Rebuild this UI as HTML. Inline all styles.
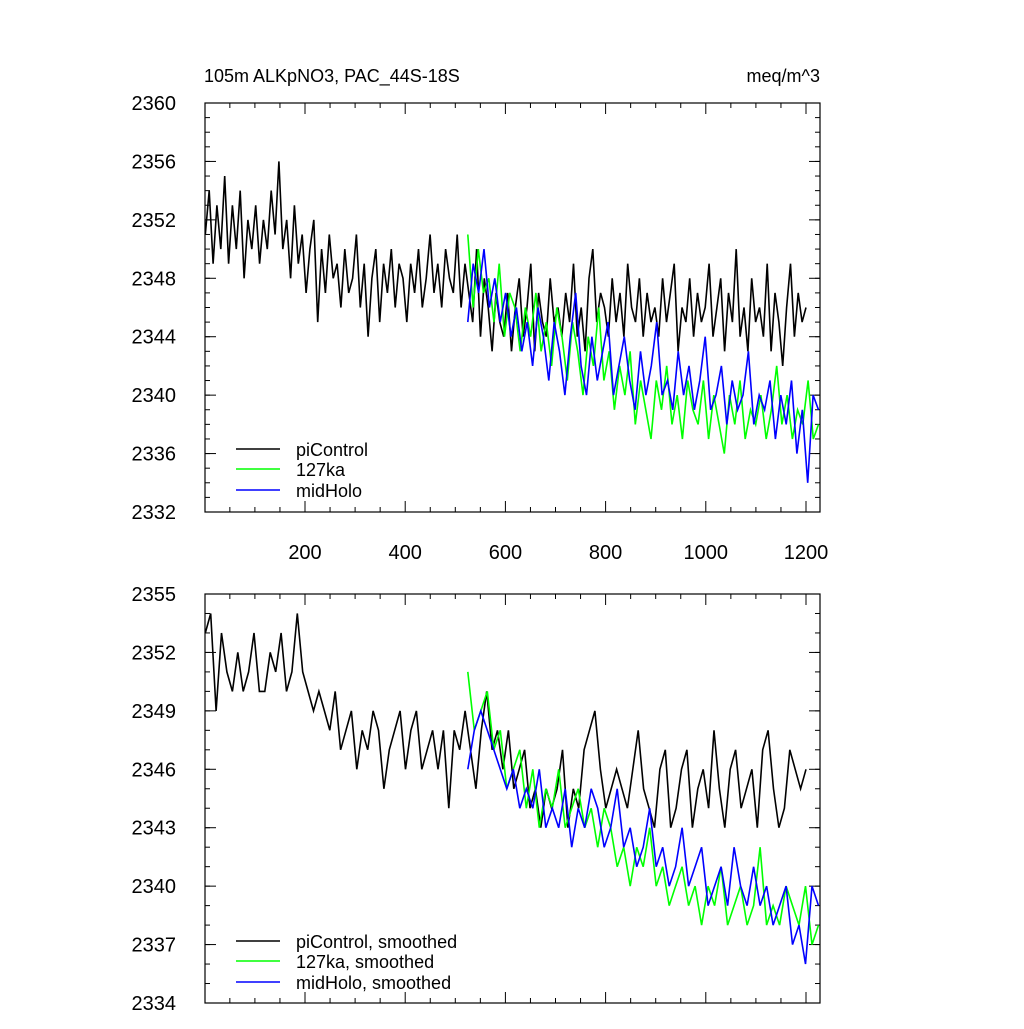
<!DOCTYPE html>
<html><head><meta charset="utf-8"><style>
body{margin:0;background:#fff;}
svg text{font-family:"Liberation Sans",sans-serif;fill:#000;}
</style></head><body>
<svg id="c" width="1024" height="1024" viewBox="0 0 1024 1024" xmlns="http://www.w3.org/2000/svg"></svg>
<script>
const piTop=[2351,2354,2349,2353,2350,2355,2349,2353,2350,2354,2348,2352,2350,
2353,2349,2352,2350,2354,2351,2356,2350,2352,2348,2353,2349,2351,
2347,2350,2352,2345,2350,2347,2351,2348,2349,2346,2350,2347,2348,
2351,2346,2349,2344,2348,2350,2345,2349,2347,2350,2346,2349,2348,
2345,2349,2347,2350,2346,2348,2351,2347,2349,2346,2350,2348,2347,
2351,2346,2349,2347,2345,2350,2344,2348,2346,2343,2347,2345,2344,
2347,2343,2346,2348,2344,2346,2349,2343,2347,2345,2344,2348,2345,
2346,2344,2347,2345,2349,2344,2346,2343,2348,2350,2345,2347,2346,
2344,2348,2345,2347,2344,2349,2346,2345,2348,2344,2347,2345,2346,
2344,2348,2345,2347,2349,2343,2346,2345,2348,2344,2347,2345,2346,
2349,2344,2346,2348,2343,2347,2345,2350,2344,2346,2343,2348,2345,
2346,2344,2349,2343,2347,2345,2342,2346,2349,2344,2347,2345,2346];
const lgTop=[2351,2346,2350,2347,2348,2345,2349,2344,2347,2346,2343,2346,2344,2347,2343,2345,2342,2346,2344,2341,2345,2343,2340,2344,2342,2346,2341,2343,2339,2342,2340,2343,2338,2341,2339,2337,2341,2339,2342,2338,2340,2337,2341,2339,2338,2341,2337,2340,2338,2336,2340,2338,2341,2337,2339,2338,2340,2337,2339,2342,2338,2340,2337,2339,2338,2341,2337,2338];
const mhTop=[2345,2349,2347,2350,2346,2348,2345,2347,2344,2346,2343,2345,2342,2346,2344,2341,2345,2343,2340,2344,2347,2342,2340,2344,2341,2343,2345,2340,2342,2344,2341,2339,2343,2340,2342,2345,2340,2341,2339,2343,2340,2342,2339,2341,2344,2339,2340,2342,2338,2341,2339,2340,2343,2338,2340,2339,2341,2337,2340,2338,2341,2336,2339,2334,2340,2339];
const piSm=[2353,2354,2349,2353,2351,2350,2352,2350,2351,2353,2350,2350,2352,2351,2353,2350,2351,2354,2351,2350,2349,2350,2349,2348,2350,2347,2348,2349,2346,2348,2347,2349,2348,2345,2347,2348,2349,2346,2348,2349,2346,2347,2348,2346,2348,2344,2348,2347,2349,2347,2345,2348,2350,2347,2348,2346,2348,2345,2346,2347,2344,2345,2343,2345,2344,2345,2347,2343,2345,2344,2347,2348,2349,2346,2344,2345,2346,2345,2344,2346,2348,2345,2344,2343,2346,2347,2343,2344,2346,2347,2343,2345,2346,2344,2348,2345,2343,2346,2347,2344,2345,2346,2343,2347,2348,2345,2343,2344,2347,2346,2345,2346];
const lgSm=[2351,2348,2349,2350,2347,2348,2345,2346,2347,2344,2346,2343,2345,2344,2346,2343,2344,2345,2343,2344,2342,2344,2343,2341,2342,2340,2342,2341,2343,2340,2341,2339,2340,2341,2339,2340,2338,2340,2339,2341,2338,2339,2340,2338,2339,2342,2338,2339,2338,2340,2339,2338,2340,2337,2338];
const mhSm=[2346,2348,2349,2348,2347,2346,2345,2346,2344,2345,2344,2346,2343,2344,2343,2345,2342,2344,2343,2345,2344,2342,2343,2345,2342,2343,2341,2342,2344,2341,2342,2340,2341,2343,2340,2341,2342,2339,2340,2341,2339,2342,2340,2339,2341,2339,2340,2338,2339,2340,2337,2338,2336,2340,2339];
const xTicks=[200,400,600,800,1000,1200];
const yTicksTop=[2332,2336,2340,2344,2348,2352,2356,2360];
const yTicksBot=[2334,2337,2340,2343,2346,2349,2352,2355];

const svg=document.getElementById('c');const NS='http://www.w3.org/2000/svg';
function mk(t,a,p){const e=document.createElementNS(NS,t);for(const k in a)e.setAttribute(k,a[k]);(p||svg).appendChild(e);return e;}
const X0=205,X1=820,xs=x=>204.8+x*0.501;
function panel(top,bot,ymin,ymax,yt,minorStep,series,legend,showX,name){
  const g=mk('g',{});
  
  
  const ys=v=>bot-(v-ymin)/(ymax-ymin)*(bot-top);
  mk('rect',{x:X0,y:top,width:X1-X0,height:bot-top,fill:'none',stroke:'#000','stroke-width':1.2},g);
  for(let v=ymin;v<=ymax+1e-9;v+=minorStep){const y=ys(v);mk('line',{x1:X0,x2:X0+5,y1:y,y2:y,stroke:'#000'},g);mk('line',{x1:X1,x2:X1-5,y1:y,y2:y,stroke:'#000'},g);}
  yt.forEach(v=>{const y=ys(v);mk('line',{x1:X0,x2:X0+11,y1:y,y2:y,stroke:'#000'},g);mk('line',{x1:X1,x2:X1-11,y1:y,y2:y,stroke:'#000'},g);
    const t=mk('text',{x:176,y:y+7,'text-anchor':'end','font-size':20},g);t.textContent=v;
    
    });
  for(let x=50;x<=1225;x+=50){const px=xs(x);const L=(x%200==0)?11:5;mk('line',{x1:px,x2:px,y1:bot,y2:bot-L,stroke:'#000'},g);mk('line',{x1:px,x2:px,y1:top,y2:top+L,stroke:'#000'},g);}
  if(showX)xTicks.forEach(x=>{const t=mk('text',{x:xs(x),y:bot+47,'text-anchor':'middle','font-size':20},g);t.textContent=x;
    
    });
  series.forEach(s=>{const n=s.d.length;const pts=s.d.map((v,i)=>xs(s.a+i*(s.b-s.a)/(n-1)).toFixed(1)+','+ys(v).toFixed(1)).join(' ');
    const p=mk('polyline',{points:pts,fill:'none',stroke:s.c,'stroke-width':1.6},g);
    
    });
  legend.forEach((l,i)=>{const y=l.y;mk('line',{x1:236,x2:280,y1:y,y2:y,stroke:l.c,'stroke-width':1.6},g);
    const t=mk('text',{x:296,y:y+7,'font-size':18},g);t.textContent=l.t;
    
    });
}
panel(103,512,2332,2360,yTicksTop,1,[
 {d:piTop,a:1,b:1200,c:'#000',n:'picontrol-line'},
 {d:lgTop,a:525,b:1225,c:'#00ff00',n:'127ka-line'},
 {d:mhTop,a:525,b:1225,c:'#0000ff',n:'midholo-line'}],
 [{y:449,c:'#000',t:'piControl'},{y:469,c:'#00ff00',t:'127ka'},{y:490,c:'#0000ff',t:'midHolo'}],true,'top-panel');
panel(594,1003,2334,2355,yTicksBot,1,[
 {d:piSm,a:1,b:1200,c:'#000',n:'picontrol-smoothed-line'},
 {d:lgSm,a:525,b:1225,c:'#00ff00',n:'127ka-smoothed-line'},
 {d:mhSm,a:525,b:1225,c:'#0000ff',n:'midholo-smoothed-line'}],
 [{y:941,c:'#000',t:'piControl, smoothed'},{y:961,c:'#00ff00',t:'127ka, smoothed'},{y:982,c:'#0000ff',t:'midHolo, smoothed'}],false,'bottom-panel');
const t1=mk('text',{x:204,y:82,'font-size':18});t1.textContent='105m ALKpNO3, PAC_44S-18S';


const t2=mk('text',{x:820,y:82,'font-size':18,'text-anchor':'end'});t2.textContent='meq/m^3';


</script>
</body></html>
